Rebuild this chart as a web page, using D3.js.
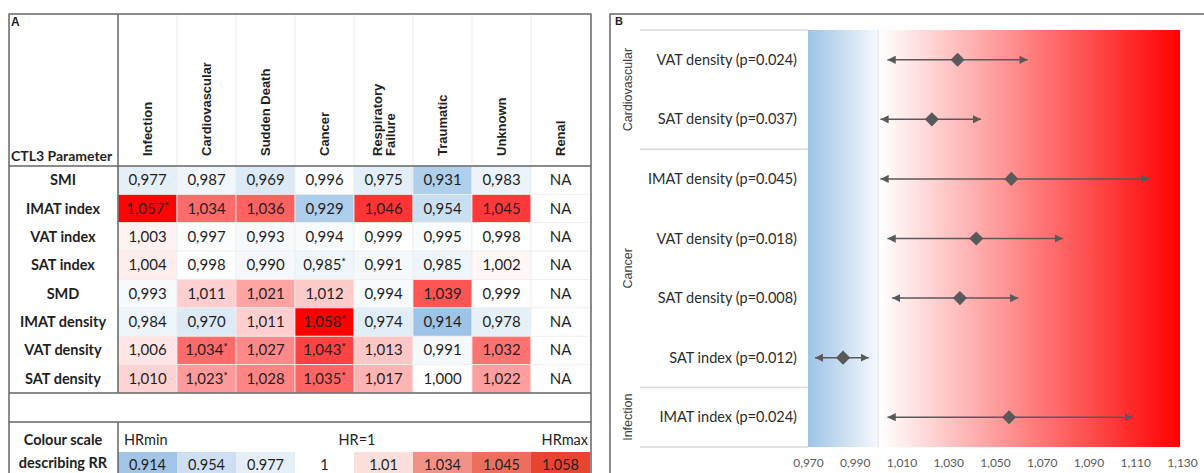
<!DOCTYPE html>
<html>
<head>
<meta charset="utf-8">
<script src="https://cdn.jsdelivr.net/npm/d3@7"></script>
<style>
  body { margin: 0; background: #fff; }
  svg text { font-family: Lato, "Open Sans", sans-serif; fill: #1f1f1f; }
  svg text.arial { font-family: "Liberation Sans", Arial, sans-serif; }
</style>
</head>
<body>
<svg id="chart" width="1204" height="473"></svg>
<script>
// ---- panel A data (hazard ratios, Renal = NA) ----
const causes = ["Infection", "Cardiovascular", "Sudden Death", "Cancer", "Respiratory\nFailure", "Traumatic", "Unknown", "Renal"];
const params = ["SMI", "IMAT index", "VAT index", "SAT index", "SMD", "IMAT density", "VAT density", "SAT density"];

const smi         = [0.977, 0.987, 0.969, 0.996, 0.975, 0.931, 0.983, null];
const imatIndex   = [1.057, 1.034, 1.036, 0.929, 1.046, 0.954, 1.045, null];
const vatIndex    = [1.003, 0.997, 0.993, 0.994, 0.999, 0.995, 0.998, null];
const satIndex    = [1.004, 0.998, 0.990, 0.985, 0.991, 0.985, 1.002, null];
const smd         = [0.993, 1.011, 1.021, 1.012, 0.994, 1.039, 0.999, null];
const imatDensity = [0.984, 0.970, 1.011, 1.058, 0.974, 0.914, 0.978, null];
const vatDensity  = [1.006, 1.034, 1.027, 1.043, 1.013, 0.991, 1.032, null];
const satDensity  = [1.010, 1.023, 1.028, 1.035, 1.017, 1.000, 1.022, null];
const hrRows = [smi, imatIndex, vatIndex, satIndex, smd, imatDensity, vatDensity, satDensity];

// cells marked with * (param, cause index)
const sigCells = [["IMAT index", 0], ["SAT index", 3], ["IMAT density", 3], ["VAT density", 1], ["VAT density", 3], ["SAT density", 1], ["SAT density", 3]];

// colour legend row
const scaleStops = [0.914, 0.954, 0.977, 1, 1.01, 1.034, 1.045, 1.058];
const scaleNames = ["HRmin", "HR=1", "HRmax"];

// ---- panel B data (forest plot) ----
const forestGroups = ["Cardiovascular", "Cardiovascular", "Cancer", "Cancer", "Cancer", "Cancer", "Infection"];
const forestLabels = ["VAT density (p=0.024)", "SAT density (p=0.037)", "IMAT density (p=0.045)", "VAT density (p=0.018)", "SAT density (p=0.008)", "SAT index (p=0.012)", "IMAT index (p=0.024)"];
const forestHR = [1.034, 1.023, 1.057, 1.042, 1.035, 0.985, 1.056];
const forestLo = [1.004, 1.001, 1.001, 1.004, 1.006, 0.973, 1.004];
const forestHi = [1.064, 1.044, 1.116, 1.079, 1.060, 0.996, 1.109];
const forestTicks = [0.970, 0.990, 1.010, 1.030, 1.050, 1.070, 1.090, 1.110, 1.130];

const svg = d3.select('#chart');
const comma = v => d3.format('.3f')(v).replace('.', ',');
const color = d3.scaleLinear().domain([0.914, 1, 1.058]).range(['#9dc3e6', '#ffffff', '#ff0000']);
const legendColor = d3.scaleLinear().domain([0.914, 1, 1.058]).range(['#a2c4e5', '#ffffff', '#e9442f']);
const border = '#666';

// ================= panel A =================
const A = svg.append('g').attr('class', 'panelA');
const col = d3.scaleBand().domain(d3.range(causes.length)).range([118, 590]);
const row = d3.scaleBand().domain(params).range([166, 393]);
const isSig = (p, c) => sigCells.some(s => s[0] === p && s[1] === c);

const cells = params.flatMap((p, ri) => hrRows[ri].map((v, ci) => ({p, ci, v})));

A.selectAll('rect.cell')
  .data(cells)
  .join('rect').attr('class', 'cell')
  .attr('x', d => col(d.ci)).attr('y', d => row(d.p))
  .attr('width', col.bandwidth()).attr('height', row.bandwidth())
  .attr('fill', d => d.v == null ? '#fff' : color(d.v))
  .attr('stroke', '#eeeeee').attr('stroke-width', 0.8);

A.selectAll('text.val')
  .data(cells)
  .join('text').attr('class', 'val')
  .attr('x', d => col(d.ci) + col.bandwidth() / 2)
  .attr('y', d => row(d.p) + row.bandwidth() / 2 + 5)
  .attr('text-anchor', 'middle')
  .attr('font-size', 15)
  .each(function(d) {
     const t = d3.select(this);
     t.append('tspan').text(d.v == null ? 'NA' : comma(d.v));
     if (isSig(d.p, d.ci))
        t.append('tspan').attr('dy', -5).attr('font-size', 10).attr('font-weight', 'bold').text('*');
  });

// row labels
A.selectAll('text.param')
  .data(params)
  .join('text').attr('class', 'param')
  .attr('x', 63).attr('y', d => row(d) + row.bandwidth() / 2 + 5)
  .attr('text-anchor', 'middle').attr('font-size', 14.5).attr('font-weight', 'bold')
  .text(d => d);

// header: faint column dividers + rotated cause names
A.selectAll('line.hdiv')
  .data(d3.range(1, causes.length))
  .join('line').attr('class', 'hdiv')
  .attr('x1', d => col(d)).attr('x2', d => col(d))
  .attr('y1', 15).attr('y2', 166)
  .attr('stroke', '#ebebeb');

A.selectAll('text.cause')
  .data(causes)
  .join('text').attr('class', 'cause arial')
  .attr('transform', (d, i) => `translate(${col(i) + col.bandwidth() / 2},156) rotate(-90)`)
  .attr('font-size', 13).attr('font-weight', 'bold')
  .each(function(d) {
     const lines = d.split('\n');
     d3.select(this).selectAll('tspan')
       .data(lines)
       .join('tspan')
       .attr('x', 0)
       .attr('y', (l, li) => (li - (lines.length - 1) / 2) * 13 + 4.5)
       .text(l => l);
  });

A.append('text').attr('class', 'arial').attr('x', 11).attr('y', 26)
  .attr('font-size', 12).attr('font-weight', 'bold').text('A');
A.append('text').attr('x', 11).attr('y', 161)
  .attr('font-size', 14).attr('font-weight', 'bold').text('CTL3 Parameter');

// colour legend row
const leg = A.append('g').attr('class', 'legend');
leg.selectAll('rect')
  .data(scaleStops)
  .join('rect')
  .attr('x', (d, i) => col(i)).attr('y', 452)
  .attr('width', col.bandwidth()).attr('height', 30)
  .attr('fill', d => legendColor(d));
leg.selectAll('text.stop')
  .data(scaleStops)
  .join('text').attr('class', 'stop')
  .attr('x', (d, i) => col(i) + col.bandwidth() / 2).attr('y', 470)
  .attr('text-anchor', 'middle').attr('font-size', 14.5)
  .text(d => d);
leg.selectAll('text.name')
  .data(scaleNames)
  .join('text').attr('class', 'name')
  .attr('x', (d, i) => [col(0) + 6, col(4) + 3, 588][i]).attr('y', 445)
  .attr('text-anchor', (d, i) => ['start', 'middle', 'end'][i])
  .attr('font-size', 14.5)
  .text(d => d);
leg.selectAll('text.title')
  .data(['Colour scale', 'describing RR'])
  .join('text').attr('class', 'title')
  .attr('x', 63).attr('y', (d, i) => 445 + i * 23)
  .attr('text-anchor', 'middle').attr('font-size', 14.5).attr('font-weight', 'bold')
  .text(d => d);

// heavy grid lines of the table
A.append('path')
  .attr('d', 'M9,480V14H591V480 M9,166H591 M9,393H591 M9,422H591 M118,14V393 M118,422V480')
  .attr('fill', 'none').attr('stroke', border).attr('stroke-width', 1.5);

// ================= panel B =================
const B = svg.append('g').attr('class', 'panelB');
const x = d3.scaleLinear().domain([0.970, 1.130]).range([808, 1182]);
const y = d3.scaleBand().domain(d3.range(forestLabels.length)).range([30, 447]);

const defs = svg.append('defs');
const grad = (id, c0, c1) => {
   const g = defs.append('linearGradient').attr('id', id);
   g.append('stop').attr('offset', 0).attr('stop-color', c0);
   g.append('stop').attr('offset', 1).attr('stop-color', c1);
};
grad('blueGrad', '#9dc3e6', '#f5f8fd');
grad('redGrad', '#ffffff', '#ff0000');

B.append('rect').attr('x', x(0.970)).attr('y', y.range()[0])
  .attr('width', x(1) - x(0.970) - 1).attr('height', y.range()[1] - y.range()[0])
  .attr('fill', 'url(#blueGrad)');
B.append('rect').attr('x', x(1) + 2).attr('y', y.range()[0])
  .attr('width', x(1.130) - x(1) - 4).attr('height', y.range()[1] - y.range()[0])
  .attr('fill', 'url(#redGrad)');
B.append('line').attr('x1', x(1)).attr('x2', x(1))
  .attr('y1', y.range()[0]).attr('y2', y.range()[1])
  .attr('stroke', '#d9d9d9');

// group separators and labels
const groups = d3.groups(forestGroups.map((g, i) => ({g, i})), d => d.g)
  .map(([g, items]) => ({g, first: items[0].i, last: items[items.length - 1].i}));

B.selectAll('line.sep')
  .data(groups)
  .join('line').attr('class', 'sep')
  .attr('x1', 640).attr('x2', x(0.970))
  .attr('y1', d => y(d.first)).attr('y2', d => y(d.first))
  .attr('stroke', '#d9d9d9').attr('stroke-width', 1.5);
B.append('line')
  .attr('x1', 640).attr('x2', x(0.970))
  .attr('y1', y.range()[1]).attr('y2', y.range()[1])
  .attr('stroke', '#d9d9d9').attr('stroke-width', 1.5);

B.selectAll('text.group')
  .data(groups)
  .join('text').attr('class', 'group arial')
  .attr('transform', d => `translate(628,${(y(d.first) + y(d.last) + y.bandwidth()) / 2}) rotate(-90)`)
  .attr('text-anchor', 'middle').attr('dy', '0.35em')
  .attr('font-size', 12.5).style('fill', '#404040')
  .text(d => d.g);

B.selectAll('text.label')
  .data(forestLabels)
  .join('text').attr('class', 'label')
  .attr('x', 797).attr('y', (d, i) => y(i) + y.bandwidth() / 2 + 5)
  .attr('text-anchor', 'end').attr('font-size', 14.5).style('fill', '#2b2b2b')
  .text(d => d);

// arrows
const ink = '#595959';
defs.append('marker').attr('id', 'head')
  .attr('viewBox', '0 0 10 10').attr('refX', 10).attr('refY', 5)
  .attr('markerWidth', 5.5).attr('markerHeight', 5.5).attr('orient', 'auto-start-reverse')
  .append('path').attr('d', 'M0,0L10,5L0,10z').attr('fill', ink);

const rowsB = forestLabels.map((l, i) => ({i, hr: forestHR[i], lo: forestLo[i], hi: forestHi[i]}));

B.selectAll('line.ci')
  .data(rowsB)
  .join('line').attr('class', 'ci')
  .attr('x1', d => x(d.lo)).attr('x2', d => x(d.hi))
  .attr('y1', d => y(d.i) + y.bandwidth() / 2).attr('y2', d => y(d.i) + y.bandwidth() / 2)
  .attr('stroke', ink).attr('stroke-width', 1.5)
  .attr('marker-start', 'url(#head)').attr('marker-end', 'url(#head)');

B.selectAll('path.est')
  .data(rowsB)
  .join('path').attr('class', 'est')
  .attr('d', d3.symbol(d3.symbolSquare, 100))
  .attr('transform', d => `translate(${x(d.hr)},${y(d.i) + y.bandwidth() / 2}) rotate(45)`)
  .attr('fill', ink);

// x axis
B.append('g')
  .attr('transform', `translate(0,${y.range()[1] + 8})`)
  .call(d3.axisBottom(x).tickValues(forestTicks).tickFormat(comma).tickSize(0))
  .call(g => g.select('.domain').remove())
  .call(g => g.selectAll('text')
     .attr('font-family', 'Lato, "Open Sans", sans-serif')
     .attr('font-size', 12).style('fill', ink));

B.append('text').attr('class', 'arial').attr('x', 615).attr('y', 25)
  .attr('font-size', 11).attr('font-weight', 'bold').text('B');

B.append('path')
  .attr('d', 'M610,480V14H1210')
  .attr('fill', 'none').attr('stroke', border).attr('stroke-width', 1.5);
</script>
</body>
</html>
